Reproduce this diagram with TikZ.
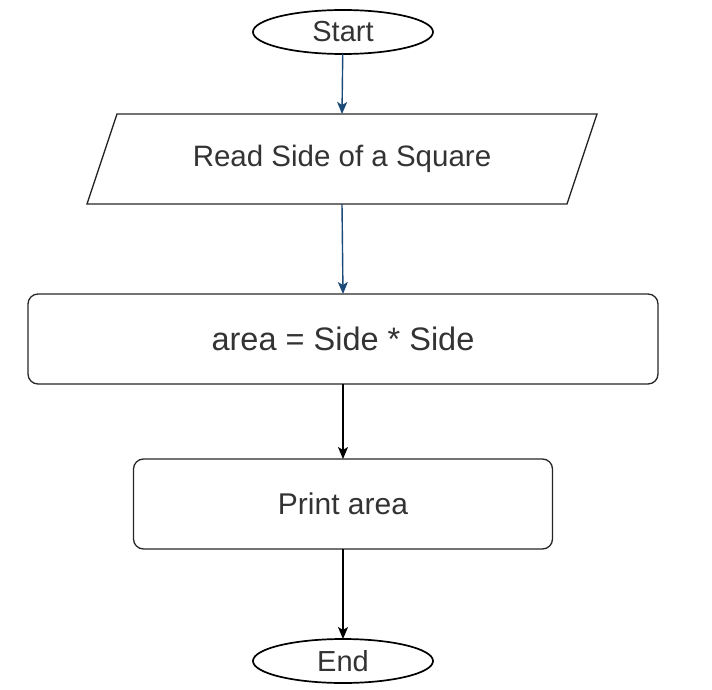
\documentclass[tikz,border=0pt]{standalone}
\usepackage{fontspec}
\setmainfont{Liberation Sans}
\usetikzlibrary{shapes.geometric,arrows.meta}
\definecolor{txt}{HTML}{333333}
\definecolor{arrblue}{HTML}{1C4A78}
\tikzset{
  term/.style={draw=black, line width=1.7pt, ellipse, minimum width=180pt, minimum height=44pt, inner sep=0pt, outer sep=0pt, text=txt, font=\fontsize{29}{34}\selectfont},
  procbox/.style={draw=black!85, line width=1.3pt, rounded corners=10pt, inner sep=0pt, outer sep=0pt, text=txt, font=\fontsize{30}{36}\selectfont},
  iobox/.style={inner sep=0pt, outer sep=0pt, minimum width=480pt, minimum height=90pt, text=txt, font=\fontsize{29.5}{34}\selectfont},
  bluearrow/.style={draw=arrblue, line width=1.4pt, -{Stealth[length=12pt,width=10pt,inset=3pt]}},
  blackarrow/.style={draw=black, line width=1.4pt, -{Stealth[length=12pt,width=10pt,inset=3pt]}}
}
\begin{document}
\begin{tikzpicture}[x=1pt,y=-1pt]
\useasboundingbox (0,0) rectangle (712,690);
\node[term] (start) at (343,32) {Start};
\node[iobox] (read) at (342,159) {Read Side of a Square};
\draw[black!85, line width=1.3pt] ([xshift=15pt]read.north west) -- ([xshift=15pt]read.north east) -- ([xshift=-15pt]read.south east) -- ([xshift=-15pt]read.south west) -- cycle;
\node[procbox, minimum width=630pt, minimum height=90pt, font=\fontsize{32.5}{38}\selectfont] (area) at (343,339) {area = Side * Side};
\node[procbox, minimum width=419pt, minimum height=90pt] (print) at (343,504) {Print area};
\node[term] (end) at (343,661) {End};
\draw[bluearrow] (start) -- (read.north);
\draw[bluearrow] (read.south) -- (area.north);
\draw[blackarrow] (area.south) -- (print.north);
\draw[blackarrow] (print.south) -- (end.north);
\end{tikzpicture}
\end{document}
